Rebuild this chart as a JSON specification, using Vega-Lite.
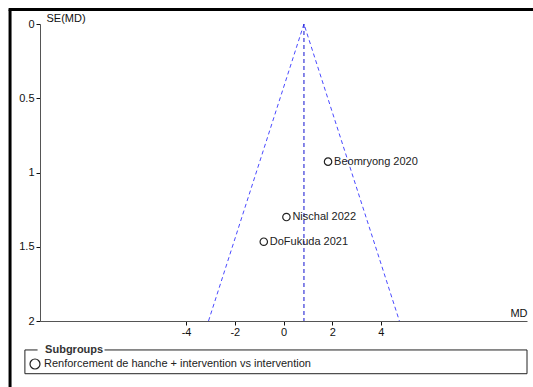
{
  "$schema": "https://vega.github.io/schema/vega-lite/v6.json",
  "width": 487,
  "height": 297,
  "autosize": {"type": "none"},
  "padding": {"left": 40, "top": 24, "right": 6, "bottom": 66},
  "background": "white",
  "config": {
    "view": {"stroke": null},
    "font": "Liberation Sans",
    "axis": {"grid": false, "labelFont": "Liberation Sans", "titleFont": "Liberation Sans"}
  },
  "layer": [
    {
      "data": {"values": [{"md": -3.08, "se": 2}, {"md": 0.84, "se": 0}, {"md": 4.76, "se": 2}]},
      "mark": {"type": "line", "color": "#4a4aff", "strokeWidth": 1, "strokeDash": [4, 3]},
      "encoding": {
        "x": {
          "field": "md", "type": "quantitative",
          "scale": {"domain": [-10, 10], "nice": false, "zero": false},
          "axis": {
            "orient": "bottom", "values": [-4, -2, 0, 2, 4], "labelExpr": "'' + datum.value",
            "tickSize": 4, "labelPadding": 1, "domainColor": "#555", "tickColor": "#111",
            "labelColor": "#111", "labelFontSize": 11, "title": "MD", "titleX": 487, "titleY": -8,
            "titleAlign": "right", "titleBaseline": "middle", "titleFontWeight": "normal",
            "titleFontSize": 11, "titleColor": "#111"
          }
        },
        "y": {
          "field": "se", "type": "quantitative",
          "scale": {"domain": [0, 2], "reverse": true, "nice": false, "zero": false},
          "axis": {
            "orient": "left", "values": [0, 0.5, 1, 1.5, 2], "format": "~g",
            "tickSize": 4, "labelPadding": 2, "domainColor": "#555", "tickColor": "#111",
            "labelColor": "#111", "labelFontSize": 11, "title": "SE(MD)", "titleAngle": 0,
            "titleX": 6, "titleY": -6, "titleAlign": "left", "titleBaseline": "middle",
            "titleFontWeight": "normal", "titleFontSize": 11, "titleColor": "#111"
          }
        }
      }
    },
    {
      "data": {"values": [{"md": 0.84, "se": 0}, {"md": 0.84, "se": 2}]},
      "mark": {"type": "line", "color": "#1010d0", "strokeWidth": 1, "strokeDash": [4, 3]},
      "encoding": {
        "x": {"field": "md", "type": "quantitative"},
        "y": {"field": "se", "type": "quantitative"},
        "order": {"field": "se", "type": "quantitative"}
      }
    },
    {
      "data": {"values": [
        {"study": "Beomryong 2020", "md": 1.83, "se": 0.927, "subgroup": "Renforcement de hanche + intervention vs intervention"},
        {"study": "Nischal 2022", "md": 0.12, "se": 1.30, "subgroup": "Renforcement de hanche + intervention vs intervention"},
        {"study": "DoFukuda 2021", "md": -0.81, "se": 1.466, "subgroup": "Renforcement de hanche + intervention vs intervention"}
      ]},
      "layer": [
        {
          "mark": {"type": "point", "filled": false, "color": "#222", "size": 55, "strokeWidth": 1.2, "opacity": 1},
          "encoding": {
            "x": {"field": "md", "type": "quantitative"},
            "y": {"field": "se", "type": "quantitative"},
            "shape": {
              "field": "subgroup", "type": "nominal",
              "scale": {"range": ["circle"]},
              "legend": {
                "orient": "none", "legendX": -11, "legendY": 334,
                "title": null,
                "labelFontSize": 11, "labelColor": "#222", "labelLimit": 0, "labelOffset": 3,
                "symbolStrokeColor": "#222", "symbolFillColor": "white", "symbolSize": 100,
                "symbolStrokeWidth": 1.2, "padding": 0
              }
            }
          }
        },
        {
          "mark": {"type": "text", "align": "left", "baseline": "middle", "dx": 6, "fontSize": 11, "color": "#222"},
          "encoding": {
            "x": {"field": "md", "type": "quantitative"},
            "y": {"field": "se", "type": "quantitative"},
            "text": {"field": "study"}
          }
        }
      ]
    },
    {
      "data": {"values": [{}]},
      "layer": [
        {
          "mark": {"type": "rule", "color": "black", "strokeWidth": 3},
          "encoding": {
            "x": {"datum": -11.23, "type": "quantitative"},
            "y": {"datum": -0.098, "type": "quantitative"},
            "y2": {"datum": 2.5}
          }
        },
        {
          "mark": {"type": "rule", "color": "black", "strokeWidth": 3},
          "encoding": {
            "y": {"datum": -0.098, "type": "quantitative"},
            "x": {"datum": -11.29, "type": "quantitative"},
            "x2": {"datum": 10.6}
          }
        },
        {
          "mark": {"type": "rect", "fill": null, "stroke": "#222", "strokeWidth": 1},
          "encoding": {
            "x": {"datum": -10.62, "type": "quantitative"},
            "x2": {"datum": 10.0},
            "y": {"datum": 2.195, "type": "quantitative"},
            "y2": {"datum": 2.355}
          }
        },
        {
          "mark": {"type": "rule", "color": "white", "strokeWidth": 3},
          "encoding": {
            "y": {"datum": 2.195, "type": "quantitative"},
            "x": {"datum": -10.1, "type": "quantitative"},
            "x2": {"datum": -7.35}
          }
        },
        {
          "mark": {"type": "text", "text": "Subgroups", "align": "left", "baseline": "middle", "fontSize": 11, "fontWeight": "bold", "color": "#333"},
          "encoding": {
            "x": {"datum": -9.79, "type": "quantitative"},
            "y": {"datum": 2.195, "type": "quantitative"}
          }
        }
      ]
    }
  ]
}
